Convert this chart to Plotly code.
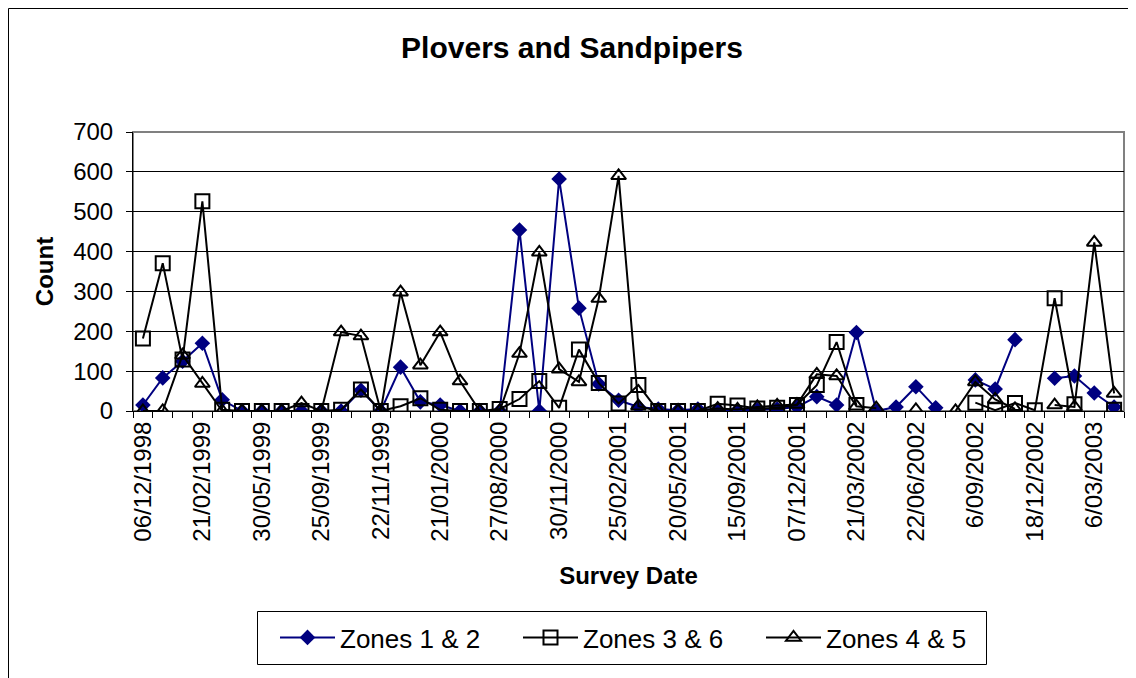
import plotly.graph_objects as go

dates = [
    "06/12/1998", "10/01/1999", "31/01/1999", "21/02/1999", "20/03/1999", "24/04/1999",
    "30/05/1999", "27/06/1999", "29/08/1999", "25/09/1999", "23/10/1999", "06/11/1999",
    "22/11/1999", "06/12/1999", "03/01/2000", "21/01/2000", "20/02/2000", "23/07/2000",
    "27/08/2000", "23/09/2000", "29/10/2000", "30/11/2000", "27/12/2000", "28/01/2001",
    "25/02/2001", "25/03/2001", "22/04/2001", "20/05/2001", "17/06/2001", "18/08/2001",
    "15/09/2001", "13/10/2001", "10/11/2001", "07/12/2001", "05/01/2002", "17/02/2002",
    "21/03/2002", "20/04/2002", "25/05/2002", "22/06/2002", "20/07/2002", "17/08/2002",
    "6/09/2002", "6/10/2002", "17/11/2002", "18/12/2002", "15/01/2003", "10/02/2003",
    "6/03/2003", "3/04/2003",
]

zones_1_2 = [15, 83, 125, 170, 28, 0, 0, 0, 0, 0,
             0, 52, 0, 110, 23, 15, 0, 0, 0, 454,
             0, 582, 258, 68, 27, 10, 5, 2, 5, 3,
             2, 3, 5, 10, 36, 15, 197, 0, 10, 61,
             8, None, 78, 55, 179, None, 82, 88, 45, 10]

zones_3_6 = [182, 371, 129, 526, 3, 0, 0, 0, 0, 0,
             3, 54, 0, 12, 32, 3, 0, 0, 5, 30,
             75, 8, 154, 70, 19, 65, 0, 0, 0, 18,
             14, 6, 8, 15, 65, 173, 15, None, None, None,
             None, None, 21, 2, 20, 2, 283, 17, None, 3]

zones_4_5 = [0, 0, 140, 69, 0, 0, 0, 0, 20, 0,
             198, 188, 0, 298, 115, 198, 75, 0, 0, 144,
             398, 105, 73, 282, 590, 12, 0, 0, 0, 6,
             4, 10, 14, 16, 92, 88, 12, 7, None, 3,
             None, 0, 73, 29, 5, None, 15, 10, 423, 44]

y_ticks = [0, 100, 200, 300, 400, 500, 600, 700]
tick_text = [d if i % 3 == 0 else "" for i, d in enumerate(dates)]

FONT = "Liberation Sans, Arial, sans-serif"
NAVY = "#000080"

fig = go.Figure()
fig.add_trace(go.Scatter(
    x=dates, y=zones_1_2, name="Zones 1 & 2", mode="lines+markers",
    line=dict(color=NAVY, width=2),
    marker=dict(symbol="diamond", size=12, color=NAVY),
))
fig.add_trace(go.Scatter(
    x=dates, y=zones_3_6, name="Zones 3 & 6", mode="lines+markers",
    line=dict(color="black", width=2),
    marker=dict(symbol="square-open", size=14, color="black", line=dict(width=2)),
))
fig.add_trace(go.Scatter(
    x=dates, y=zones_4_5, name="Zones 4 & 5", mode="lines+markers",
    line=dict(color="black", width=2),
    marker=dict(symbol="triangle-up-open", size=13, color="black", line=dict(width=2)),
))

# The page body has an 8px margin, so figure-local coords = page coords - 8
OFF = 8
W, H = 1136, 678
L = 133 - OFF
T = 132 - OFF
R = W - (1124 - OFF)
B = H - (411 - OFF)
pw = W - L - R
ph = H - T - B

def px_x(p):
    return (p - OFF - L) / pw

def px_y(p):
    return (H - B - (p - OFF)) / ph

fig.update_layout(
    width=W, height=H,
    margin=dict(l=L, r=R, t=T, b=B, autoexpand=False),
    paper_bgcolor="white", plot_bgcolor="white",
    font=dict(family=FONT, size=24, color="black"),
    title=dict(text="<b>Plovers and Sandpipers</b>", x=(572 - OFF) / W, xref="container",
               xanchor="center", y=1 - (47 - OFF) / H, yref="container", yanchor="middle",
               font=dict(size=30, family=FONT, color="black")),
    showlegend=True,
    legend=dict(orientation="h", xref="container", yref="container",
                x=(275 - OFF) / W, xanchor="left", y=1 - (614 - OFF) / H, yanchor="top",
                borderwidth=0, bgcolor="rgba(0,0,0,0)",
                font=dict(size=26, family=FONT), itemwidth=55,
                entrywidth=173, entrywidthmode="pixels"),
    xaxis=dict(
        type="category", categoryorder="array", categoryarray=dates,
        range=[-0.5, len(dates) - 0.5], autorange=False,
        tickmode="array", tickvals=dates, ticktext=tick_text,
        tickson="boundaries", ticks="outside", ticklen=6, tickwidth=1, tickcolor="black",
        tickangle=-90, tickfont=dict(size=24), automargin=False,
        showline=True, linecolor="black", linewidth=1,
        showgrid=False, zeroline=False,
        title=dict(text="<b>Survey Date</b>", font=dict(size=24), standoff=26),
    ),
    yaxis=dict(
        range=[0, 700], autorange=False, tickmode="array", tickvals=y_ticks, automargin=False,
        ticks="outside", ticklen=6, tickwidth=1, tickcolor="black",
        tickfont=dict(size=24), ticklabelstandoff=8,
        showline=True, linecolor="black", linewidth=1,
        showgrid=True, gridcolor="black", gridwidth=1, zeroline=False,
        title=dict(text="<b>Count</b>", font=dict(size=24), standoff=12),
    ),
    shapes=[
        dict(type="rect", xref="paper", yref="paper", x0=0, x1=1, y0=0, y1=1,
             line=dict(color="#808080", width=2), layer="below"),
        dict(type="rect", xref="paper", yref="paper",
             x0=px_x(8.5), x1=px_x(1170), y0=px_y(720), y1=px_y(8.5),
             line=dict(color="black", width=1), layer="below"),
        # legend frame
        dict(type="rect", xref="paper", yref="paper",
             x0=px_x(257.5), x1=px_x(986.5), y0=px_y(664.5), y1=px_y(611.5),
             line=dict(color="black", width=1), fillcolor="rgba(0,0,0,0)", layer="below"),
    ],
)

fig.write_html("out.html")
